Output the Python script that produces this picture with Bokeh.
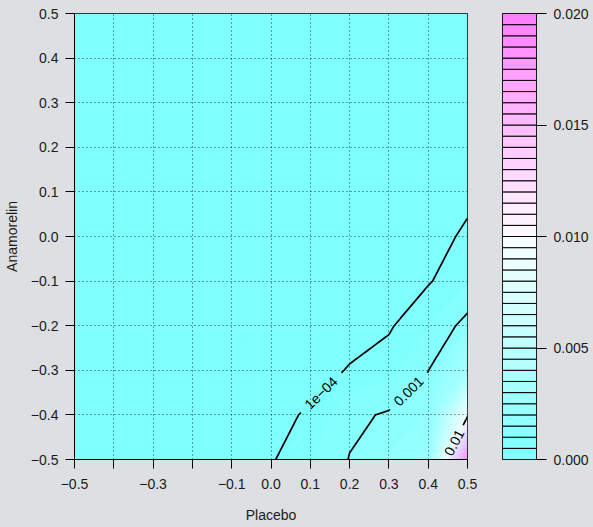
import colorsys
import numpy as np
from bokeh.plotting import figure
from bokeh.plotting.contour import contour_data
from bokeh.layouts import row
from bokeh.models import FixedTicker, Label, Range1d
from bokeh.embed import file_html
from bokeh.resources import INLINE

# ---------------- data (read / estimated from the reference) ----------------
placebo = [-0.5, -0.4, -0.3, -0.2, -0.1, 0.0, 0.1, 0.2, 0.3, 0.4, 0.5]
anamorelin = [-0.5, -0.4, -0.3, -0.2, -0.1, 0.0, 0.1, 0.2, 0.3, 0.4, 0.5]
# rows: anamorelin (-0.5 .. 0.5), columns: placebo (-0.5 .. 0.5)
density = [
    [1e-7, 3e-7, 1e-6, 3e-6, 1e-5, 5.5e-5, 4.3e-4, 1.024e-3, 1.6e-3, 2.2e-3, 1.98e-2],
    [5e-8, 1.5e-7, 5e-7, 1.5e-6, 6e-6, 5.3e-5, 1.2e-4, 8.6e-4, 1.073e-3, 1.6e-3, 9.6e-3],
    [2e-8, 6e-8, 2e-7, 6e-7, 3e-6, 1.5e-5, 4e-5, 1.1e-4, 3.4e-4, 9.8e-4, 3.43e-3],
    [1e-8, 3e-8, 1e-7, 3e-7, 1.5e-6, 6e-6, 2e-5, 4e-5, 4e-5, 4.87e-4, 1.22e-3],
    [5e-9, 1.5e-8, 5e-8, 1.5e-7, 8e-7, 2.5e-6, 8e-6, 1.5e-5, 1.5e-5, 5.7e-5, 4.4e-4],
    [2e-9, 6e-9, 2e-8, 6e-8, 3e-7, 1e-6, 3e-6, 6e-6, 8e-6, 1.8e-5, 1.35e-4],
    [1e-9, 3e-9, 1e-8, 3e-8, 1e-7, 4e-7, 1e-6, 2e-6, 3e-6, 7e-6, 5e-5],
    [5e-10, 1e-9, 4e-9, 1e-8, 4e-8, 1.5e-7, 4e-7, 8e-7, 1.2e-6, 2.5e-6, 1.8e-5],
    [2e-10, 5e-10, 2e-9, 5e-9, 1.5e-8, 6e-8, 1.5e-7, 3e-7, 5e-7, 1e-6, 6e-6],
    [1e-10, 2e-10, 1e-9, 2e-9, 6e-9, 2e-8, 6e-8, 1e-7, 2e-7, 4e-7, 2e-6],
    [5e-11, 1e-10, 4e-10, 1e-9, 3e-9, 1e-8, 2e-8, 4e-8, 8e-8, 1.5e-7, 7e-7],
]
fill_levels = [round(i * 0.0005, 4) for i in range(41)]  # 0.000 .. 0.020
line_levels = [1e-4, 1e-3, 1e-2]
line_labels = ["1e\u221204", "0.001", "0.01"]

x_ticks = [-0.5, -0.4, -0.3, -0.2, -0.1, 0.0, 0.1, 0.2, 0.3, 0.4, 0.5]
x_tick_labels = ["\u22120.5", "", "\u22120.3", "", "\u22120.1", "0.0", "0.1", "0.2", "0.3", "0.4", "0.5"]
y_ticks = [-0.5, -0.4, -0.3, -0.2, -0.1, 0.0, 0.1, 0.2, 0.3, 0.4, 0.5]
y_tick_labels = ["\u22120.5", "\u22120.4", "\u22120.3", "\u22120.2", "\u22120.1", "0.0",
                 "0.1", "0.2", "0.3", "0.4", "0.5"]
cb_ticks = [0.0, 0.005, 0.01, 0.015, 0.02]
cb_tick_labels = ["0.000", "0.005", "0.010", "0.015", "0.020"]

# ---------------- style ----------------
FONT = "Liberation Sans"
BG = "#dedfe3"
TXT = "#1a1a1a"
FRAME_W, FRAME_H = 394, 446

# label placement (data coords of label centre, angle deg, half gap px)
label_pos = [(0.127, -0.351, 44.3, 28), (0.350, -0.3465, 44.6, 26), (0.466, -0.462, 62.8, 19)]


def hsv_hex(h, s, v):
    r, g, b = colorsys.hsv_to_rgb(h, s, v)
    return "#%02x%02x%02x" % tuple(int(c * 255 + 0.5) for c in (r, g, b))


def cm_colors(n):
    k = n // 2
    first = [hsv_hex(6 / 12, s, 1) for s in np.linspace(0.5, 0.5 / k, k)]
    second = [hsv_hex(10 / 12, s, 1) for s in np.linspace(0, 0.5, n - k + 1)[1:]]
    return first + second


palette = cm_colors(len(fill_levels) - 1)

xs_arr = np.array(placebo, dtype=float)
ys_arr = np.array(anamorelin, dtype=float)
z_arr = np.array(density, dtype=float)

p = figure(width=488, height=527, x_range=Range1d(-0.5, 0.5), y_range=Range1d(-0.5, 0.5),
           output_backend="svg", toolbar_location=None,
           min_border_left=73, min_border_right=21, min_border_top=13, min_border_bottom=68)
p.background_fill_color = palette[0]
p.border_fill_color = BG
p.outline_line_color = "black"
p.outline_line_width = 1

cr = p.contour(xs_arr, ys_arr, z_arr, fill_levels, fill_color=palette)
cr.level = "image"

# ---- contour lines with gaps for labels ----
SX = FRAME_W / 1.0
SY = FRAME_H / 1.0
cd = contour_data(xs_arr, ys_arr, z_arr, line_levels, want_fill=False, want_line=True)
line_xs, line_ys = [], []


def split_nan(xa, ya):
    pieces, cx, cy = [], [], []
    for a, b in zip(xa, ya):
        if np.isnan(a) or np.isnan(b):
            if len(cx) > 1:
                pieces.append((cx, cy))
            cx, cy = [], []
        else:
            cx.append(float(a))
            cy.append(float(b))
    if len(cx) > 1:
        pieces.append((cx, cy))
    return pieces


for li in range(len(line_levels)):
    lx = np.asarray(cd.line_data.xs[li], dtype=float)
    ly = np.asarray(cd.line_data.ys[li], dtype=float)
    cx0, cy0, ang, half = label_pos[li]
    ca, sa = np.cos(np.radians(ang)), np.sin(np.radians(ang))
    for (px, py) in split_nan(lx, ly):
        dx, dy = [px[0]], [py[0]]
        for i in range(1, len(px)):
            t = np.linspace(0, 1, 41)[1:]
            dx.extend(px[i - 1] + (px[i] - px[i - 1]) * t)
            dy.extend(py[i - 1] + (py[i] - py[i - 1]) * t)
        cur_x, cur_y = [], []
        for a, b in zip(dx, dy):
            u = (a - cx0) * SX
            v = (b - cy0) * SY
            along = u * ca + v * sa
            across = -u * sa + v * ca
            if abs(along) < half and abs(across) < 9:
                if len(cur_x) > 1:
                    line_xs.append(cur_x)
                    line_ys.append(cur_y)
                cur_x, cur_y = [], []
            else:
                cur_x.append(a)
                cur_y.append(b)
        if len(cur_x) > 1:
            line_xs.append(cur_x)
            line_ys.append(cur_y)

p.multi_line(xs=line_xs, ys=line_ys, line_color="black", line_width=1.7)

for (cx0, cy0, ang, half), txt in zip(label_pos, line_labels):
    p.add_layout(Label(x=cx0, y=cy0, text=txt, angle=ang, angle_units="deg",
                       text_align="center", text_baseline="middle",
                       text_font=FONT, text_font_size="14px", text_color="black"))

# axes
for ax, ticks, labels in ((p.xaxis[0], x_ticks, x_tick_labels), (p.yaxis[0], y_ticks, y_tick_labels)):
    ax.ticker = FixedTicker(ticks=ticks)
    ax.major_label_overrides = {t: l for t, l in zip(ticks, labels)}
    ax.minor_tick_line_color = None
    ax.major_tick_in = 0
    ax.major_tick_out = 9
    ax.major_tick_line_color = "black"
    ax.axis_line_color = "black"
    ax.major_label_text_font = FONT
    ax.major_label_text_font_size = "14px"
    ax.major_label_text_color = TXT
    ax.axis_label_text_font = FONT
    ax.axis_label_text_font_size = "14px"
    ax.axis_label_text_font_style = "normal"
    ax.axis_label_text_color = TXT

p.xaxis.axis_label = "Placebo"
p.yaxis.axis_label = "Anamorelin"
p.xaxis.major_label_standoff = 10
p.xaxis.axis_label_standoff = 15
p.yaxis.major_label_standoff = 7
p.yaxis.axis_label_standoff = 8
p.yaxis.major_label_orientation = "horizontal"

for g in (p.xgrid[0], p.ygrid[0]):
    g.grid_line_color = "black"
    g.grid_line_dash = "1 3"
    g.grid_line_alpha = 0.75
    g.grid_line_width = 1

# ---------------- colour key ----------------
p2 = figure(width=105, height=527, x_range=Range1d(0, 1), y_range=Range1d(0, 0.02),
            output_backend="svg", toolbar_location=None, y_axis_location="right",
            min_border_left=14, min_border_right=57, min_border_top=13, min_border_bottom=68)
p2.border_fill_color = BG
p2.background_fill_color = BG
p2.outline_line_color = "black"
p2.xaxis.visible = False
p2.xgrid.visible = False
p2.ygrid.visible = False
p2.quad(left=0, right=1, bottom=fill_levels[:-1], top=fill_levels[1:],
        fill_color=palette, line_color="black", line_width=1)
ya = p2.yaxis[0]
ya.ticker = FixedTicker(ticks=cb_ticks)
ya.major_label_overrides = {t: l for t, l in zip(cb_ticks, cb_tick_labels)}
ya.minor_tick_line_color = None
ya.major_tick_in = 0
ya.major_tick_out = 10
ya.major_label_standoff = 7
ya.axis_line_color = None
ya.major_tick_line_color = "black"
ya.major_label_text_font = FONT
ya.major_label_text_font_size = "14px"
ya.major_label_text_color = TXT

layout = row(p, p2, styles={"background-color": BG})
open("out.html", "w").write(file_html(layout, INLINE))
